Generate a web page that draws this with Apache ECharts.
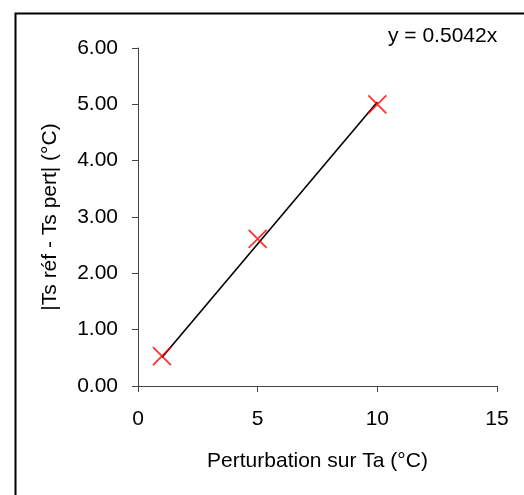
<!DOCTYPE html>
<html>
<head>
<meta charset="utf-8">
<script src="https://cdn.jsdelivr.net/npm/echarts@6/dist/echarts.min.js"></script>
<style>
html,body{margin:0;padding:0;background:#fff;}
#c{width:524px;height:495px;}
</style>
</head>
<body>
<div id="c"></div>
<script>
// Data
var perturbation = [1, 5, 10];          // Perturbation sur Ta (°C)
var ecart = [0.53, 2.61, 5.00];         // |Ts réf - Ts pert| (°C)
var trendX = [1, 10];                   // trend line extent
var trendY = [0.5042, 5.042];           // y = 0.5042x at the ends
var equationLabel = 'y = 0.5042x';
var xTitle = 'Perturbation sur Ta (°C)';
var yTitle = '|Ts réf - Ts pert| (°C)';

var pts = perturbation.map(function (x, i) { return [x, ecart[i]]; });
var trend = trendX.map(function (x, i) { return [x, trendY[i]]; });

var font = 'Liberation Sans, Arial, sans-serif';
var chart = echarts.init(document.getElementById('c'), null, {renderer: 'canvas'});
chart.setOption({
  animation: false,
  backgroundColor: '#fff',
  grid: {left: 138, top: 48, right: 27, bottom: 109},
  xAxis: {
    type: 'value', min: 0, max: 15, interval: 5,
    name: xTitle, nameLocation: 'middle', nameGap: 65,
    nameTextStyle: {fontFamily: font, fontSize: 21, color: '#000'},
    axisLine: {show: true, onZero: false, lineStyle: {color: '#444', width: 1}},
    axisTick: {show: true, inside: false, length: 6, lineStyle: {color: '#444'}},
    axisLabel: {fontFamily: font, fontSize: 21, color: '#000', margin: 23},
    splitLine: {show: false}
  },
  yAxis: {
    type: 'value', min: 0, max: 6, interval: 1,
    name: yTitle, nameLocation: 'middle', nameGap: 77, nameRotate: 90,
    nameTextStyle: {fontFamily: font, fontSize: 21, color: '#000'},
    axisLine: {show: true, lineStyle: {color: '#444', width: 1}},
    axisTick: {show: true, inside: false, length: 6, lineStyle: {color: '#444'}},
    axisLabel: {fontFamily: font, fontSize: 21, color: '#000', margin: 20,
      formatter: function (v) { return v.toFixed(2); }},
    splitLine: {show: false}
  },
  series: [
    {
      type: 'line', data: trend, symbol: 'none', silent: true,
      lineStyle: {color: '#000', width: 1.6}, z: 2
    },
    {
      type: 'scatter', data: pts,
      symbol: 'path://M0,0L10,10M10,0L0,10', symbolSize: 18,
      itemStyle: {color: 'rgba(0,0,0,0)', borderColor: '#ff0000', borderWidth: 1.8},
      z: 3
    }
  ],
  graphic: [
    {type: 'rect', left: 13, top: 11, z: 10, silent: true,
     shape: {width: 540, height: 520},
     style: {fill: 'none', stroke: '#000', lineWidth: 2}},
    {type: 'text', left: 388, top: 26, z: 10,
     style: {text: equationLabel, font: '21px ' + font, fill: '#000'}}
  ]
});
</script>
</body>
</html>
